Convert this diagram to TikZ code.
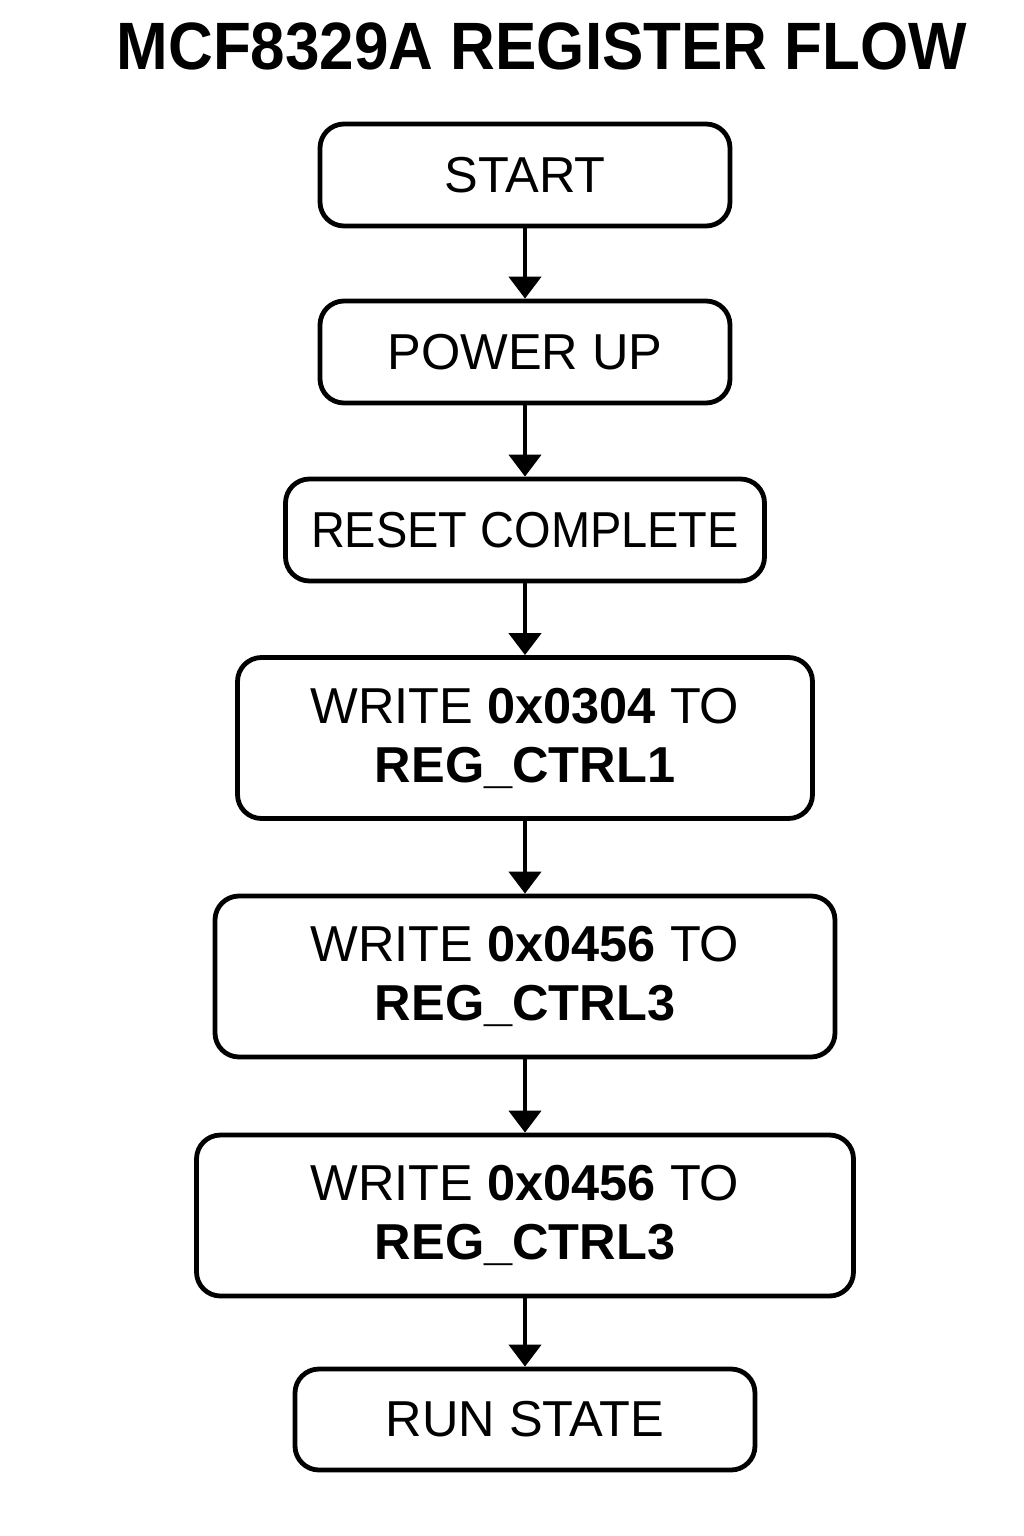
\documentclass[tikz,border=0pt]{standalone}
\usepackage{fontspec}
\setmainfont{Liberation Sans}
\usetikzlibrary{arrows.meta}
\tikzset{
  stepbox/.style={draw, line width=4.8pt, rounded corners=24pt, inner sep=0pt,
    align=center, font=\fontsize{50.5}{59}\selectfont},
  flow/.style={draw, line width=4.5pt, -{Triangle[width=32pt,length=22pt]}}
}

\begin{document}
\begin{tikzpicture}[x=1pt, y=-1pt]
  \useasboundingbox (0, 0) rectangle (1024, 1536);

  \node[font=\fontsize{67}{78}\selectfont\bfseries] (title) at (542, 46)
    {\scalebox{0.925}[1]{MCF8329A REGISTER FLOW}};

  \node[stepbox, minimum width=410pt, minimum height=102pt] (start) at (525, 175) {START};
  \node[stepbox, minimum width=410pt, minimum height=102pt] (power) at (525, 352) {POWER UP};
  \node[stepbox, minimum width=479pt, minimum height=102pt] (reset) at (525, 530)
    {\scalebox{0.93}[1]{RESET COMPLETE}};
  \node[stepbox, minimum width=575pt, minimum height=161pt] (ctrla) at (525, 738)
    {WRITE \textbf{0x0304} TO\\ \textbf{REG\_CTRL1}};
  \node[stepbox, minimum width=620pt, minimum height=161pt] (ctrlb) at (525, 976.5)
    {WRITE \textbf{0x0456} TO\\ \textbf{REG\_CTRL3}};
  \node[stepbox, minimum width=657pt, minimum height=161pt] (ctrlc) at (525, 1215.5)
    {WRITE \textbf{0x0456} TO\\ \textbf{REG\_CTRL3}};
  \node[stepbox, minimum width=460pt, minimum height=101pt] (run) at (525, 1419.5) {RUN STATE};

  % connectors
  \foreach \from/\to in {start/power, power/reset, reset/ctrla, ctrla/ctrlb, ctrlb/ctrlc, ctrlc/run}
    \draw[flow] (\from.south) -- (\to.north);
\end{tikzpicture}
\end{document}
